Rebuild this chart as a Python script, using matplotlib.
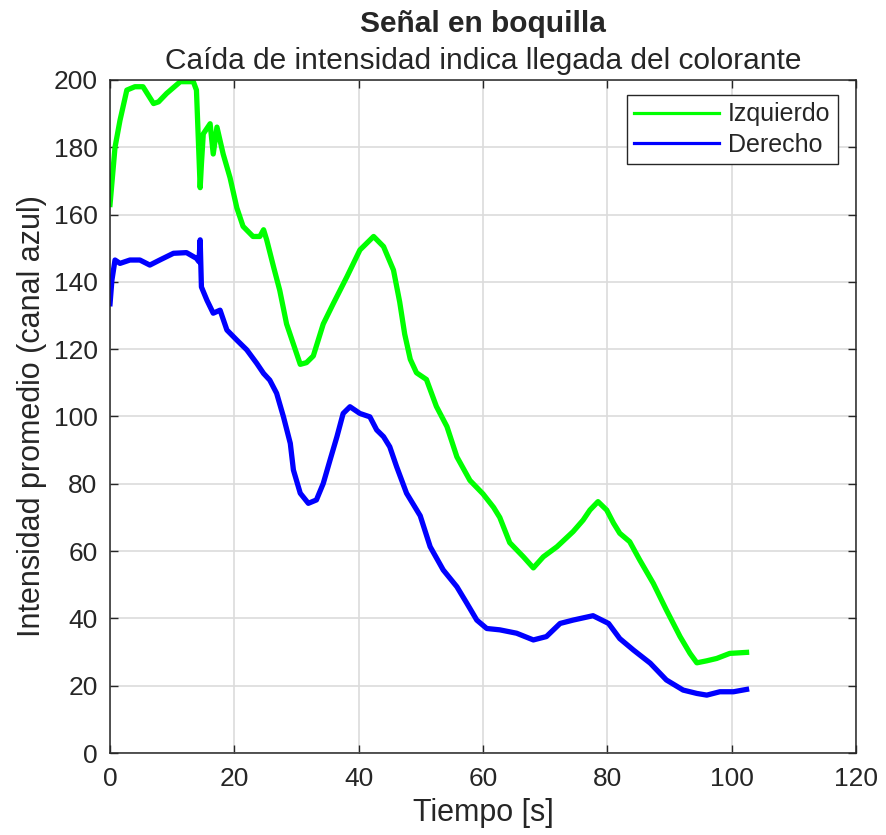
import matplotlib.pyplot as plt
from matplotlib.lines import Line2D

plt.rcParams['font.family'] = ['Liberation Sans', 'DejaVu Sans']

# canal azul, lado izquierdo
t_izq = [0, 0.8, 1.6, 2.7, 4, 5.3, 7, 7.8, 9.1, 11.3, 13.4, 13.9, 14.5, 14.7, 15,
         16.1, 16.6, 17.2, 18.2, 19.3, 20.4, 21.4, 23, 24.1, 24.7, 25.2, 26.3, 27.3,
         28.4, 29.5, 30.6, 31.6, 32.7, 34.3, 35.9, 38.1, 40.2, 42.4, 44, 45.6, 46.6,
         47.4, 48.3, 49.3, 50.9, 52.5, 54.2, 55.8, 57.9, 60, 61.7, 62.7, 64.3, 66.5,
         68.1, 69.7, 71.9, 74.5, 76.1, 77.2, 78.5, 79.9, 81, 82, 83.6, 85.2, 87.4,
         89.5, 91.7, 93.3, 94.4, 96, 97.6, 99.7, 102.4]
izquierdo = [163, 180, 188, 197, 198, 198, 193, 193.5, 196, 199.5, 199.5, 197, 168, 175,
             184, 187, 178, 186, 178, 171, 162, 156.5, 153.5, 153.5, 155.5, 152.5, 144.5,
             137.5, 127.5, 121.5, 115.5, 116, 118, 127.5, 133.5, 141.5, 149.5, 153.5,
             150.5, 143.5, 134, 124.5, 117, 113, 111, 103, 97, 88, 81, 77, 73, 70, 62.5,
             58.3, 55, 58.3, 61.3, 65.8, 69.2, 72.2, 74.7, 72.2, 68.3, 65.3, 62.8, 57.4,
             50.4, 42.5, 34.6, 29.6, 26.8, 27.4, 28.1, 29.6, 29.9]

# canal azul, lado derecho
t_der = [0, 0.3, 0.8, 1.6, 3.2, 4.8, 6.4, 8, 10.2, 12.3, 13.9, 14.3, 14.5, 14.7, 15.6,
         16.6, 17.7, 18.8, 20.4, 22, 23.6, 24.7, 25.7, 26.8, 27.9, 29, 29.5, 30.6, 31.9,
         33.2, 34.3, 35.4, 36.5, 37.5, 38.6, 40.2, 41.8, 42.9, 44, 45, 46.1, 47.7, 49.9,
         51.5, 53.6, 55.8, 57.4, 59, 60.6, 62.7, 65.4, 68.1, 70.2, 72.4, 74.5, 77.7,
         80.2, 82, 84.2, 86.9, 89.5, 92.2, 94.4, 96, 98.1, 100.3, 102.4]
derecho = [133.5, 140.5, 146.5, 145.5, 146.5, 146.5, 145, 146.5, 148.5, 148.7, 147, 146,
           152.5, 138.5, 134.5, 130.7, 131.6, 125.7, 122.7, 119.8, 115.8, 112.8, 110.8,
           106.9, 99.9, 92, 84.1, 77.2, 74.2, 75.2, 80.1, 87.1, 94, 100.9, 102.9, 100.9,
           99.9, 96, 94, 91, 85.1, 77.2, 70.5, 61.3, 54.4, 49.4, 44.5, 39.5, 37, 36.6,
           35.6, 33.6, 34.6, 38.5, 39.5, 40.8, 38.5, 34, 30.6, 26.7, 21.7, 18.7, 17.7,
           17.2, 18.2, 18.2, 18.9]

x_ticks = [0, 20, 40, 60, 80, 100, 120]
y_ticks = [0, 20, 40, 60, 80, 100, 120, 140, 160, 180, 200]

verde = '#00ff00'
azul = '#0000ff'
gris = '#262626'

fig = plt.figure(figsize=(8.86, 8.35), dpi=100)
ax = fig.add_axes([0.1242, 0.0982, 0.8419, 0.806])

ax.plot(t_izq, izquierdo, color=verde, lw=3.8, solid_joinstyle='round')
ax.plot(t_der, derecho, color=azul, lw=3.8, solid_joinstyle='round')

ax.set_xlim(0, 120)
ax.set_ylim(0, 200)
ax.set_xticks(x_ticks)
ax.set_yticks(y_ticks)
ax.grid(True, color='#dcdcdc', lw=1.2)
ax.set_axisbelow(True)
ax.tick_params(direction='in', top=True, right=True, length=6, width=1,
               colors=gris, labelsize=19)
ax.tick_params(axis='x', pad=10)
ax.tick_params(axis='y', pad=9)
for s in ax.spines.values():
    s.set_color(gris)
    s.set_linewidth(1.1)

ax.set_xlabel('Tiempo [s]', fontsize=22, color=gris, labelpad=5)
ax.set_ylabel('Intensidad promedio (canal azul)', fontsize=22, color=gris, labelpad=5)

ax.text(0.5, 1.062, 'Señal en boquilla', transform=ax.transAxes, ha='center',
        va='bottom', fontsize=21.5, fontweight='bold', color=gris)
ax.text(0.5, 1.008, 'Caída de intensidad indica llegada del colorante',
        transform=ax.transAxes, ha='center', va='bottom', fontsize=21.5, color=gris)

handles = [Line2D([], [], color=verde, lw=2.3), Line2D([], [], color=azul, lw=2.3)]
leg = ax.legend(handles, ['Izquierdo', 'Derecho'], loc='upper right',
                bbox_to_anchor=(0.976, 0.978), fontsize=18, fancybox=False,
                framealpha=1, edgecolor=gris, handlelength=3.4, borderpad=0.3,
                labelspacing=0.25, handletextpad=0.35, borderaxespad=0)
leg.get_frame().set_linewidth(1.0)
for txt in leg.get_texts():
    txt.set_color(gris)

fig.savefig('out.png', dpi=100)
